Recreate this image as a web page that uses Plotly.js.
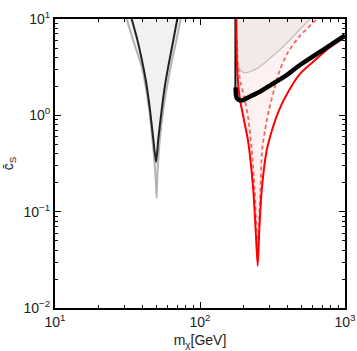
<!DOCTYPE html>
<html>
<head>
<meta charset="utf-8">
<script src="https://cdn.plot.ly/plotly-3.0.1.min.js"></script>
<style>
  html, body { margin: 0; padding: 0; background: #fff; }
  #chart { width: 357px; height: 351px; }
</style>
</head>
<body>
<div id="chart"></div>
<script>
// m_chi [GeV] vs c_S

// left funnel (near m_h / 2)
const funnelBlackM = [33.8, 37.0, 40.6, 42.8, 45.2, 47.7, 49.8, 51.5, 54.4, 57.4, 60.4, 65.5, 69.7];
const funnelBlackC = [10, 6.05, 3.2, 2.07, 1.135, 0.555, 0.328, 0.555, 1.135, 2.07, 3.2, 6.05, 10];
const funnelGrayM = [31.2, 34.5, 39.6, 44.7, 47.7, 49.4, 50.2, 50.8, 52.1, 55.8, 62.8, 68.8, 73.6];
const funnelGrayC = [10, 6.05, 3.2, 1.135, 0.437, 0.231, 0.139, 0.231, 0.437, 1.135, 3.2, 6.05, 10];

// right side: threshold line + thick black curve
const edgeM = [175.5, 175.5];
const edgeC = [10, 1.9];
const thickM = [176, 177.5, 181, 188, 198, 220, 259, 320, 396, 489, 673, 1000];
const thickC = [1.95, 1.6, 1.48, 1.43, 1.44, 1.56, 1.76, 2.14, 2.62, 3.33, 4.57, 6.74];

// light gray curve (upper right)
const grayM = [177.5, 179, 183, 189, 204, 251, 304, 396, 480, 574];
const grayC = [10, 5, 3.5, 2.96, 2.75, 3.10, 3.91, 5.6, 7.6, 10];

// solid red curve, left and right branch
const redLeftM = [178, 179.5, 183.5, 189, 201, 214, 233, 242, 250];
const redLeftC = [10, 3.75, 2.07, 1.44, 0.895, 0.555, 0.168, 0.0646, 0.0273];
const redRightM = [256.4, 266.5, 288.7, 314, 351, 405, 489, 611, 776, 1000];
const redRightC = [0.0646, 0.168, 0.436, 0.705, 1.135, 1.75, 2.7, 3.66, 5.0, 6.5];

// dashed red curve
const dashLeftM = [180, 183, 192, 204, 216, 227.5, 238, 245, 250];
const dashLeftC = [6.05, 3.18, 2.07, 1.44, 0.895, 0.436, 0.168, 0.0646, 0.030];
const dashRightM = [254, 261, 268, 281, 299, 324, 356, 405, 489, 641];
const dashRightC = [0.0646, 0.168, 0.436, 0.705, 1.135, 1.83, 2.96, 4.54, 6.67, 10];

const xTickVals = [10, 100, 1000];
const xTickText = ['10<sup>1</sup>', '10<sup>2</sup>', '10<sup>3</sup>'];
const yTickVals = [0.01, 0.1, 1, 10];
const yTickText = ['10<sup>\u22122</sup>', '10<sup>\u22121</sup>', '10<sup>0</sup>', '10<sup>1</sup>'];

const minorVals = (lo, hi) => {
  const v = [];
  for (let d = lo; d < hi; d++) {
    for (let k = 2; k <= 9; k++) v.push(k * Math.pow(10, d));
  }
  return v;
};

const sp = { shape: 'spline', smoothing: 0.6 };

const traces = [
  // fills
  { x: funnelGrayM, y: funnelGrayC, mode: 'lines', fill: 'toself', fillcolor: '#f1f1f1',
    line: { width: 0 }, hoverinfo: 'skip' },
  { x: redLeftM.concat(dashRightM), y: redLeftC.concat(dashRightC), mode: 'lines', fill: 'toself',
    fillcolor: '#fdf1f1', line: { width: 0, shape: 'spline', smoothing: 0.6 }, hoverinfo: 'skip' },
  { x: grayM, y: grayC, mode: 'lines', fill: 'toself', fillcolor: '#f3e9e9',
    line: { width: 0, shape: 'spline', smoothing: 0.6 }, hoverinfo: 'skip' },

  // lines
  { x: funnelGrayM, y: funnelGrayC, mode: 'lines', line: { ...sp, color: '#b4b4b4', width: 2 } },
  { x: funnelBlackM, y: funnelBlackC, mode: 'lines', line: { ...sp, color: '#222', width: 2 } },
  { x: grayM, y: grayC, mode: 'lines', line: { ...sp, color: '#c8c4c4', width: 1.5 } },
  { x: dashLeftM.concat(dashRightM), y: dashLeftC.concat(dashRightC), mode: 'lines',
    line: { ...sp, color: '#ff6262', width: 1.8, dash: '4px,3px' } },
  { x: edgeM, y: edgeC, mode: 'lines', line: { color: '#111', width: 2 } },
  { x: redLeftM.concat(redRightM), y: redLeftC.concat(redRightC), mode: 'lines',
    line: { ...sp, color: '#ff0000', width: 2 } },
  { x: thickM, y: thickC, mode: 'lines', line: { ...sp, color: '#000', width: 4.5 } }
];

const axisBase = {
  type: 'log',
  showgrid: false,
  zeroline: false,
  showline: true,
  linecolor: '#000',
  linewidth: 2,
  mirror: 'allticks',
  ticks: 'inside',
  ticklen: 6,
  tickwidth: 1,
  tickcolor: '#000',
  tickmode: 'array',
  tickfont: { family: 'Liberation Sans, Arial, sans-serif', size: 14, color: '#222' }
};

const layout = {
  width: 357,
  height: 351,
  margin: { l: 55, r: 12, t: 19, b: 43 },
  paper_bgcolor: '#fff',
  plot_bgcolor: '#fff',
  showlegend: false,
  xaxis: {
    ...axisBase,
    range: [1, 3],
    tickvals: xTickVals,
    ticktext: xTickText,
    minor: { tickmode: 'array', tickvals: minorVals(1, 3), ticks: 'inside', ticklen: 3, tickcolor: '#000', showgrid: false },
    title: { text: 'm<sub>\u03c7</sub>[GeV]', font: { family: 'Liberation Sans, Arial, sans-serif', size: 14, color: '#222' }, standoff: 6 }
  },
  yaxis: {
    ...axisBase,
    range: [-2, 1],
    tickvals: yTickVals,
    ticktext: yTickText,
    minor: { tickmode: 'array', tickvals: minorVals(-2, 1), ticks: 'inside', ticklen: 3, tickcolor: '#000', showgrid: false },
    title: { text: 'c\u0304<sub>S</sub>', font: { family: 'Liberation Sans, Arial, sans-serif', size: 14, color: '#222' }, standoff: 8 }
  }
};

Plotly.newPlot('chart', traces, layout, { displayModeBar: false, staticPlot: true });
</script>
</body>
</html>
